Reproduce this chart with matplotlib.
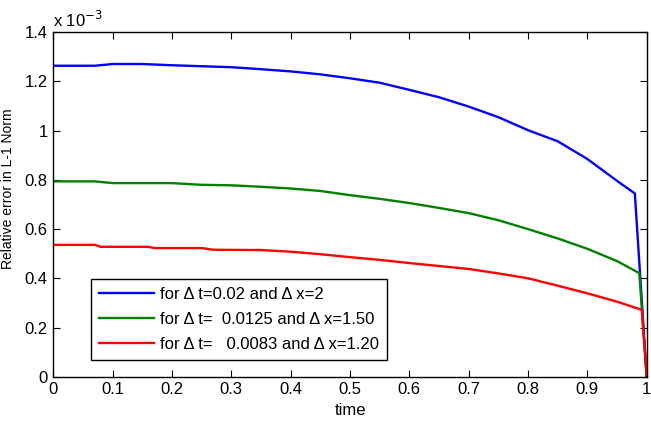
import matplotlib
matplotlib.use('Agg')
import matplotlib.pyplot as plt
from matplotlib.ticker import FuncFormatter

plt.rcParams['font.family'] = ['Liberation Sans', 'DejaVu Sans']

# values, error in units of 1e-3
t_blue = [0, 0.07, 0.1, 0.15, 0.2, 0.25, 0.3, 0.35, 0.4, 0.45, 0.5, 0.55, 0.6,
          0.65, 0.7, 0.75, 0.8, 0.85, 0.9, 0.95, 0.98, 1.0]
err_blue = [1.264, 1.264, 1.271, 1.271, 1.266, 1.262, 1.258, 1.250, 1.241, 1.229,
            1.213, 1.195, 1.166, 1.136, 1.098, 1.055, 1.002, 0.957, 0.885, 0.796,
            0.745, 0.0]

t_green = [0, 0.07, 0.1, 0.2, 0.25, 0.3, 0.35, 0.4, 0.45, 0.5, 0.55, 0.6, 0.65,
           0.7, 0.75, 0.8, 0.85, 0.9, 0.95, 0.9875, 1.0]
err_green = [0.794, 0.794, 0.787, 0.787, 0.780, 0.778, 0.772, 0.765, 0.755, 0.738,
             0.723, 0.706, 0.686, 0.665, 0.636, 0.600, 0.562, 0.520, 0.470, 0.421, 0.0]

t_red = [0, 0.07, 0.08, 0.16, 0.17, 0.25, 0.27, 0.35, 0.4, 0.45, 0.5, 0.55, 0.6,
         0.65, 0.7, 0.75, 0.8, 0.85, 0.9, 0.95, 0.9917, 1.0]
err_red = [0.536, 0.536, 0.528, 0.528, 0.523, 0.523, 0.516, 0.515, 0.508, 0.498,
           0.486, 0.475, 0.462, 0.450, 0.438, 0.420, 0.400, 0.370, 0.339, 0.305,
           0.272, 0.0]

labels = ['for \u0394 t=0.02 and \u0394 x=2',
          'for \u0394 t=  0.0125 and \u0394 x=1.50',
          'for \u0394 t=   0.0083 and \u0394 x=1.20']

fig = plt.figure(figsize=(6.51, 4.22), dpi=100)
ax = fig.add_axes([0.0819, 0.1073, 0.9115, 0.8162])

ax.plot(t_blue, err_blue, color=(0, 0, 1), lw=1.7, label=labels[0])
ax.plot(t_green, err_green, color=(0, 0.5, 0), lw=1.7, label=labels[1])
ax.plot(t_red, err_red, color=(1, 0, 0), lw=1.7, label=labels[2])

ax.set_xlim(0, 1)
ax.set_ylim(0, 1.4)
ax.set_xticks([i / 10 for i in range(11)])
ax.set_yticks([0, 0.2, 0.4, 0.6, 0.8, 1.0, 1.2, 1.4])
fmt = FuncFormatter(lambda v, p: '%g' % round(v, 3))
ax.xaxis.set_major_formatter(fmt)
ax.yaxis.set_major_formatter(fmt)
ax.tick_params(direction='in', top=True, right=True, length=5, width=0.8,
               labelsize=12, colors='black', pad=4)
for s in ax.spines.values():
    s.set_linewidth(1.0)

ax.set_xlabel('time', fontsize=12, labelpad=4)
ax.set_ylabel('Relative error in L-1 Norm', fontsize=10)
ax.yaxis.set_label_coords(-0.064, 0.545)
ax.text(0.0, 1.006, 'x 10$^{-3}$', transform=ax.transAxes, fontsize=12,
        ha='left', va='bottom')

leg = ax.legend(loc='lower left', bbox_to_anchor=(0.063, 0.048), borderaxespad=0,
                fontsize=12, fancybox=False, framealpha=1, edgecolor='black',
                handlelength=3.3, handletextpad=0.35, borderpad=0.5,
                labelspacing=0.6)
leg.get_frame().set_linewidth(1.0)

fig.savefig('out.png', dpi=100)
